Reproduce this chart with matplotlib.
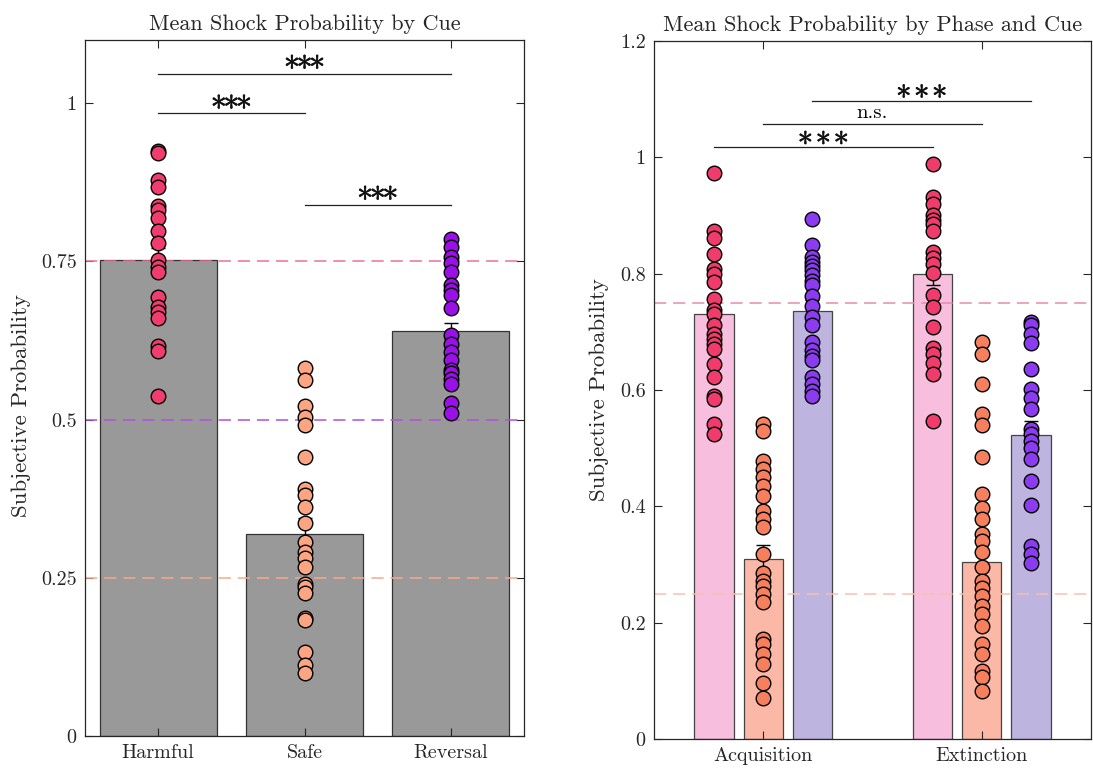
import numpy as np
import matplotlib
matplotlib.use("Agg")
import matplotlib.pyplot as plt
import matplotlib.patheffects as pe

plt.rcParams['font.family'] = 'serif'
plt.rcParams['font.serif'] = ['cmr10']
plt.rcParams['mathtext.fontset'] = 'cm'
plt.rcParams['axes.unicode_minus'] = False
plt.rcParams['axes.formatter.use_mathtext'] = True

# ---------------- Left panel data ----------------
cues = ['Harmful', 'Safe', 'Reversal']
cue_means = [0.753, 0.319, 0.640]
cue_sem = [0.019, 0.026, 0.013]
harmful = [0.925, 0.921, 0.879, 0.868, 0.837, 0.831, 0.818, 0.798, 0.779, 0.752,
           0.741, 0.734, 0.694, 0.678, 0.670, 0.660, 0.616, 0.609, 0.537]
safe = [0.581, 0.562, 0.521, 0.504, 0.491, 0.441, 0.391, 0.381, 0.362, 0.337,
        0.307, 0.291, 0.282, 0.267, 0.241, 0.235, 0.226, 0.186, 0.183, 0.133,
        0.112, 0.100]
reversal = [0.786, 0.773, 0.757, 0.748, 0.734, 0.712, 0.705, 0.697, 0.676, 0.634,
            0.620, 0.607, 0.594, 0.578, 0.573, 0.564, 0.557, 0.526, 0.511]
cue_yticks = [0, 0.25, 0.5, 0.75, 1]
cue_yticklabels = ['0', '0.25', '0.5', '0.75', '1']

# ---------------- Right panel data ----------------
phases = ['Acquisition', 'Extinction']
phase_means = {'Harmful': [0.731, 0.800], 'Safe': [0.309, 0.305], 'Reversal': [0.736, 0.522]}
phase_sem = {'Harmful': [0.022, 0.020], 'Safe': [0.025, 0.033], 'Reversal': [0.018, 0.024]}
acq_harmful = [0.973, 0.874, 0.862, 0.834, 0.808, 0.799, 0.785, 0.757, 0.738, 0.731,
               0.711, 0.697, 0.688, 0.679, 0.671, 0.645, 0.622, 0.589, 0.585, 0.542, 0.524]
acq_safe = [0.542, 0.530, 0.478, 0.464, 0.450, 0.435, 0.418, 0.392, 0.378, 0.364,
            0.318, 0.286, 0.272, 0.263, 0.249, 0.235, 0.172, 0.163, 0.146, 0.129,
            0.097, 0.071]
acq_reversal = [0.894, 0.849, 0.828, 0.820, 0.814, 0.806, 0.797, 0.788, 0.780, 0.762,
                0.745, 0.726, 0.711, 0.682, 0.668, 0.659, 0.651, 0.622, 0.610, 0.599, 0.590]
ext_harmful = [0.988, 0.932, 0.919, 0.900, 0.893, 0.885, 0.873, 0.837, 0.827, 0.817,
               0.801, 0.764, 0.742, 0.709, 0.672, 0.662, 0.646, 0.627, 0.546]
ext_safe = [0.682, 0.662, 0.611, 0.559, 0.539, 0.485, 0.421, 0.397, 0.378, 0.352,
            0.341, 0.321, 0.296, 0.272, 0.260, 0.246, 0.229, 0.215, 0.194, 0.163,
            0.146, 0.117, 0.106, 0.083]
ext_reversal = [0.717, 0.711, 0.697, 0.680, 0.636, 0.602, 0.587, 0.567, 0.533, 0.524,
                0.513, 0.501, 0.481, 0.444, 0.403, 0.332, 0.318, 0.302]
phase_yticks = [0, 0.2, 0.4, 0.6, 0.8, 1.0, 1.2]
phase_yticklabels = ['0', '0.2', '0.4', '0.6', '0.8', '1', '1.2']

# ---------------- Styles ----------------
dot_left = {'Harmful': '#f03c6e', 'Safe': '#fba583', 'Reversal': '#9c10e8'}
dot_right = {'Harmful': '#ef3c6c', 'Safe': '#f6805d', 'Reversal': '#8c3cf0'}
bar_right = {'Harmful': '#f7bedd', 'Safe': '#fbb8a6', 'Reversal': '#bdb4e0'}
spine_c = '#262626'
DASH = (0, (8, 4.5))

fig = plt.figure(figsize=(10.93, 7.70), dpi=100)
axL = fig.add_axes([85 / 1093, 1 - 736 / 770, 439 / 1093, 696 / 770])
axR = fig.add_axes([654 / 1093, 1 - 739 / 770, 437 / 1093, 698 / 770])

TICKFS = 14.5
LABFS = 16.5
TITLEFS = 16
MS = 10.5

STARS_TIGHT = r'${\ast}\hspace{-0.12}{\ast}\hspace{-0.12}{\ast}$'
STARS_WIDE = r'${\ast}\hspace{0.1}{\ast}\hspace{0.1}{\ast}$'

def style(ax):
    for s in ax.spines.values():
        s.set_color(spine_c)
        s.set_linewidth(0.9)
    ax.tick_params(direction='in', top=True, right=True, length=6, width=0.8,
                   colors=spine_c, labelsize=TICKFS, labelcolor='#262626', pad=6)

def stars(ax, xc, y, text, fs):
    t = ax.text(xc, y, text, ha='center', va='center', fontsize=fs, color='#111111',
                zorder=5, math_fontfamily='cm')
    t.set_path_effects([pe.withStroke(linewidth=0.45, foreground='#111111')])

# ---------------- Left ----------------
xl = np.arange(1, len(cues) + 1)
axL.bar(xl, cue_means, width=0.8, color='#999999', edgecolor='#333333', linewidth=0.9, zorder=1)
axL.errorbar(xl, cue_means, yerr=cue_sem, fmt='none', ecolor='black', elinewidth=1,
             capsize=5, capthick=1, zorder=3)
for y, c in [(0.75, '#eb709b'), (0.5, '#b050d8'), (0.25, '#f6a98a')]:
    axL.axhline(y, color=c, lw=1.1, ls=DASH, zorder=2)
for i, (name, vals) in enumerate(zip(cues, [harmful, safe, reversal])):
    axL.plot(np.full(len(vals), xl[i]), vals, 'o', ms=MS, mfc=dot_left[name],
             mec='black', mew=1.0, zorder=4, ls='none')
axL.set_xlim(0.5, 3.5)
axL.set_ylim(0, 1.1)
axL.set_xticks(xl)
axL.set_xticklabels(cues)
axL.set_yticks(cue_yticks)
axL.set_yticklabels(cue_yticklabels)
axL.set_ylabel('Subjective Probability', fontsize=LABFS, color='#262626')
axL.yaxis.set_label_coords(-0.122, 0.475)
axL.set_title('Mean Shock Probability by Cue', fontsize=TITLEFS, color='#262626', pad=7)
style(axL)

sigL = [(1, 3, 1.047), (1, 2, 0.984), (2, 3, 0.840)]
for a, b, y in sigL:
    axL.plot([a, b], [y, y], color='#222222', lw=0.9, zorder=5)
    stars(axL, (a + b) / 2, y + 0.018, STARS_TIGHT, 23)

# ---------------- Right ----------------
xg = np.arange(1, len(phases) + 1)
offs = {'Harmful': -0.225, 'Safe': 0.0, 'Reversal': 0.225}
pts = {'Harmful': [acq_harmful, ext_harmful], 'Safe': [acq_safe, ext_safe],
       'Reversal': [acq_reversal, ext_reversal]}
for name in cues:
    pos = xg + offs[name]
    axR.bar(pos, phase_means[name], width=0.18, color=bar_right[name], edgecolor='#444444',
            linewidth=0.9, zorder=1)
    axR.errorbar(pos, phase_means[name], yerr=phase_sem[name], fmt='none', ecolor='black',
                 elinewidth=1, capsize=5, capthick=1, zorder=3)
    for j in range(len(phases)):
        vals = pts[name][j]
        axR.plot(np.full(len(vals), pos[j]), vals, 'o', ms=MS, mfc=dot_right[name],
                 mec='black', mew=1.0, zorder=4, ls='none')
for y, c in [(0.75, '#e68bae'), (0.25, '#f6c1ad')]:
    axR.axhline(y, color=c, lw=1.1, ls=DASH, zorder=2)
axR.set_xlim(0.5, 2.5)
axR.set_ylim(0, 1.2)
axR.set_xticks(xg)
axR.set_xticklabels(phases)
axR.set_yticks(phase_yticks)
axR.set_yticklabels(phase_yticklabels)
axR.set_ylabel('Subjective Probability', fontsize=LABFS, color='#262626')
axR.yaxis.set_label_coords(-0.103, 0.5)
axR.set_title('Mean Shock Probability by Phase and Cue', fontsize=TITLEFS, color='#262626', pad=7)
style(axR)

sigR = [(1 - 0.225, 2 - 0.225, 1.017, '***'),
        (1.0, 2.0, 1.057, 'n.s.'),
        (1 + 0.225, 2 + 0.225, 1.097, '***')]
for a, b, y, t in sigR:
    axR.plot([a, b], [y, y], color='#222222', lw=0.9, zorder=5)
    if t == 'n.s.':
        axR.text((a + b) / 2, y + 0.004, t, ha='center', va='bottom', fontsize=15, zorder=5)
    else:
        stars(axR, (a + b) / 2, y + 0.017, STARS_WIDE, 22)

fig.savefig('out.png', dpi=100)
